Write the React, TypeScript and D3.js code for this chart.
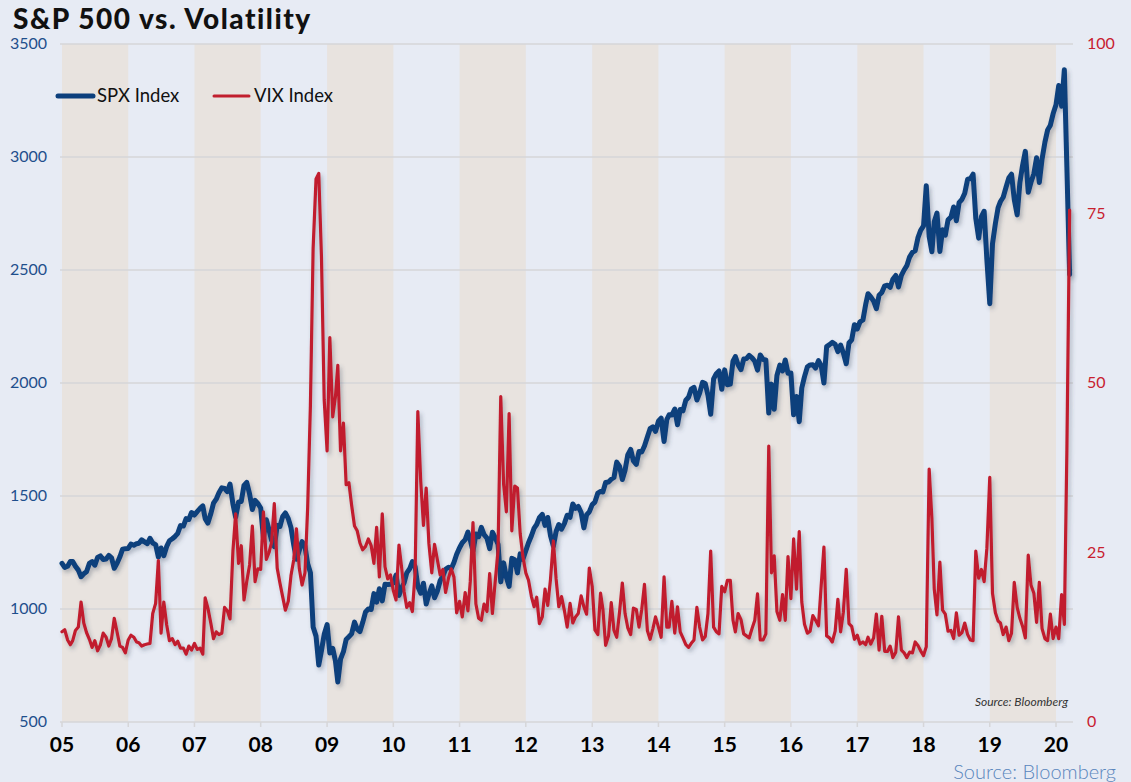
import React from "react";
import * as d3 from "d3";

const W = 1131;
const H = 782;

const titleText = "S&P 500 vs. Volatility";
const leftTicks = [500, 1000, 1500, 2000, 2500, 3000, 3500];
const rightTicks = [0, 25, 50, 75, 100];
const yearTicks = [2005, 2006, 2007, 2008, 2009, 2010, 2011, 2012, 2013, 2014, 2015, 2016, 2017, 2018, 2019, 2020];
const yearLabels = ["05", "06", "07", "08", "09", "10", "11", "12", "13", "14", "15", "16", "17", "18", "19", "20"];
const shadedYears = [2005, 2007, 2009, 2011, 2013, 2015, 2017, 2019];
const seriesNames = ["SPX Index", "VIX Index"];
const sourceText = "Source: Bloomberg";

// Values sampled on the 1st and 16th of each month, Jan 2005 - Mar 2020
const spxValues = [
  // 2005
  1202, 1184, 1189, 1210, 1210, 1189, 1172, 1143, 1156, 1165, 1202, 1210, 1194, 1228, 1235, 1219, 1221, 1237, 1226, 1180, 1203, 1231, 1265, 1267,
  // 2006
  1268, 1287, 1282, 1289, 1291, 1306, 1297, 1289, 1313, 1292, 1285, 1230, 1270, 1236, 1277, 1302, 1311, 1321, 1335, 1369, 1367, 1400, 1396, 1427,
  // 2007
  1416, 1431, 1445, 1456, 1400, 1380, 1421, 1468, 1486, 1514, 1536, 1533, 1519, 1553, 1465, 1406, 1474, 1476, 1547, 1560, 1508, 1440, 1481, 1467,
  // 2008
  1447, 1315, 1395, 1350, 1304, 1276, 1370, 1365, 1409, 1425, 1400, 1360, 1284, 1220, 1260, 1298, 1277, 1200, 1161, 920, 880, 752, 816, 888,
  // 2009
  931, 805, 826, 770, 677, 778, 811, 865, 877, 890, 942, 911, 900, 940, 987, 1000, 998, 1068, 1030, 1090, 1036, 1109, 1108, 1109,
  // 2010
  1115, 1150, 1060, 1094, 1115, 1160, 1178, 1210, 1187, 1100, 1070, 1114, 1022, 1065, 1102, 1050, 1080, 1125, 1146, 1176, 1185, 1178, 1206, 1242,
  // 2011
  1271, 1293, 1307, 1340, 1306, 1256, 1332, 1320, 1361, 1329, 1314, 1267, 1340, 1316, 1287, 1120, 1204, 1140, 1100, 1224, 1218, 1160, 1244, 1220,
  // 2012
  1258, 1293, 1324, 1358, 1374, 1404, 1419, 1370, 1405, 1325, 1278, 1343, 1374, 1353, 1379, 1415, 1406, 1465, 1445, 1454, 1427, 1359, 1416, 1430,
  // 2013
  1462, 1473, 1513, 1520, 1518, 1560, 1562, 1574, 1582, 1650, 1631, 1573, 1614, 1682, 1706, 1655, 1640, 1697, 1695, 1721, 1761, 1798, 1806, 1786,
  // 2014
  1831, 1845, 1741, 1838, 1859, 1858, 1885, 1815, 1883, 1877, 1924, 1937, 1973, 1981, 1925, 1955, 2003, 1998, 1946, 1862, 2018, 2041, 2053, 1972,
  // 2015
  2058, 1992, 1995, 2097, 2117, 2081, 2059, 2106, 2108, 2122, 2111, 2096, 2057, 2124, 2104, 2102, 1867, 1995, 1884, 2033, 2079, 2053, 2102, 2043,
  // 2016
  2044, 1859, 1940, 1829, 1978, 2028, 2072, 2080, 2081, 2066, 2099, 2077, 2000, 2161, 2170, 2180, 2171, 2139, 2168, 2133, 2085, 2177, 2191, 2258,
  // 2017
  2239, 2271, 2279, 2347, 2395, 2381, 2362, 2329, 2388, 2400, 2430, 2433, 2423, 2459, 2476, 2425, 2476, 2500, 2519, 2557, 2579, 2585, 2642, 2675,
  // 2018
  2695, 2873, 2648, 2581, 2713, 2752, 2582, 2678, 2654, 2722, 2734, 2779, 2718, 2798, 2813, 2840, 2902, 2904, 2924, 2728, 2641, 2736, 2760, 2546,
  // 2019
  2351, 2616, 2706, 2776, 2803, 2822, 2867, 2907, 2924, 2812, 2744, 2887, 2964, 3025, 2844, 2888, 2926, 2997, 2887, 2990, 3066, 3120, 3141, 3191,
  // 2020
  3231, 3316, 3225, 3386, 2954, 2480,
];

const vixValues = [
  // 2005
  13.3, 13.6, 12.1, 11.4, 12.0, 13.5, 14.0, 17.7, 14.6, 13.2, 12.2, 11.0, 12.0, 10.5, 11.4, 13.1, 12.5, 11.2, 12.3, 15.3, 13.2, 11.2, 11.0, 10.2,
  // 2006
  12.1, 12.8, 12.5, 11.8, 11.7, 11.2, 11.4, 11.5, 11.6, 16.0, 17.5, 23.8, 13.1, 17.7, 14.3, 12.0, 12.3, 11.4, 11.9, 10.9, 10.9, 10.0, 11.2, 10.6,
  // 2007
  11.6, 10.7, 10.9, 10.0, 18.3, 16.8, 14.6, 12.3, 13.3, 12.9, 13.1, 16.9, 16.4, 15.2, 25.2, 30.7, 23.4, 26.0, 18.0, 20.7, 23.2, 28.9, 20.7, 22.6,
  // 2008
  22.5, 31.0, 24.0, 25.0, 26.5, 32.2, 22.7, 20.5, 18.5, 16.5, 17.8, 21.6, 23.9, 28.5, 22.6, 20.2, 22.0, 31.7, 46.7, 69.9, 80.1, 80.9, 68.5, 47.5,
  // 2009
  40.0, 56.7, 45.0, 48.0, 52.6, 40.0, 44.1, 35.0, 35.3, 32.0, 28.9, 28.2, 26.4, 25.4, 25.9, 27.0, 26.0, 23.4, 28.7, 21.4, 30.7, 22.9, 21.1, 21.7,
  // 2010
  19.4, 18.0, 26.1, 22.7, 19.3, 16.9, 17.6, 16.3, 22.0, 45.8, 35.5, 29.0, 34.5, 26.3, 22.0, 26.2, 23.9, 21.7, 22.5, 19.1, 21.2, 22.6, 21.4, 16.1,
  // 2011
  17.8, 15.5, 19.1, 16.4, 20.7, 29.4, 17.4, 15.3, 15.0, 17.4, 16.3, 21.9, 16.0, 20.6, 25.3, 48.0, 35.0, 31.0, 45.5, 28.2, 34.8, 34.5, 27.8, 24.4,
  // 2012
  22.0, 20.9, 18.5, 17.0, 18.4, 14.5, 15.5, 19.6, 17.2, 21.0, 26.7, 21.1, 17.0, 18.5, 16.4, 14.0, 17.5, 14.6, 15.5, 16.0, 18.6, 17.0, 15.9, 22.7,
  // 2013
  20.0, 13.6, 12.9, 19.0, 16.6, 11.3, 12.7, 17.6, 13.5, 12.5, 16.3, 20.5, 16.0, 13.9, 12.9, 16.8, 16.6, 14.0, 16.6, 20.3, 13.5, 12.2, 13.7, 15.5,
  // 2014
  14.0, 12.5, 21.4, 14.0, 14.0, 17.8, 13.1, 17.0, 13.3, 12.4, 11.4, 11.0, 11.6, 12.1, 16.9, 14.0, 12.1, 12.6, 16.0, 25.2, 14.0, 13.3, 13.0, 20.0,
  // 2015
  19.2, 20.9, 20.9, 15.0, 13.3, 16.0, 15.1, 13.0, 12.7, 12.4, 13.8, 15.0, 18.9, 12.1, 12.1, 13.0, 40.7, 22.0, 24.5, 16.3, 15.0, 18.8, 15.0, 24.4,
  // 2016
  18.2, 27.0, 19.6, 28.1, 17.7, 14.4, 13.1, 13.4, 15.7, 15.0, 14.2, 20.1, 25.8, 12.7, 12.4, 11.8, 13.4, 18.1, 13.3, 16.2, 22.5, 14.5, 14.1, 12.2,
  // 2017
  12.8, 11.5, 11.8, 11.4, 12.5, 11.5, 12.4, 15.9, 10.6, 15.6, 10.4, 10.4, 11.2, 9.5, 10.3, 15.5, 10.6, 10.2, 9.5, 10.3, 10.2, 11.8, 11.3, 10.5,
  // 2018
  9.8, 11.1, 37.3, 30.0, 19.6, 15.8, 23.6, 16.5, 15.9, 13.4, 13.5, 12.3, 16.1, 12.8, 13.2, 14.6, 12.9, 12.1, 12.0, 25.2, 21.2, 22.5, 20.7, 25.6,
  // 2019
  36.1, 19.0, 16.1, 14.9, 14.6, 12.9, 14.0, 12.0, 13.1, 20.6, 16.9, 15.3, 14.1, 12.4, 24.6, 20.2, 19.0, 14.7, 20.6, 13.8, 12.3, 12.0, 15.9, 12.3,
  // 2020
  14.0, 12.3, 18.8, 14.4, 40.1, 75.5,
];

const slotDate = (i: number) =>
  new Date(2005 + Math.floor(i / 24), Math.floor((i % 24) / 2), i % 2 ? 16 : 1);

const COLORS = {
  bg: "#e7ebf4",
  band: "#e8e3df",
  grid: "#d6d6d9",
  spx: "#0c3f7c",
  vix: "#c11f2e",
  leftText: "#1f4f8c",
  rightText: "#c8202f",
  source: "#5a86bd",
};

export default function App() {
  const plotTop = 44;
  const plotBottom = 722;
  const plotLeft = 60;
  const plotRight = 1073;

  const x = d3
    .scaleTime()
    .domain([new Date(2005, 0, 1), new Date(2020, 0, 1)])
    .range([62, 1056]);
  const yL = d3.scaleLinear().domain([500, 3500]).range([plotBottom, plotTop]);
  const yR = d3.scaleLinear().domain([0, 100]).range([plotBottom, plotTop]);

  const spxLine = d3
    .line<number>()
    .x((_, i) => x(slotDate(i)))
    .y((d) => yL(d))
    .curve(d3.curveLinear);
  const vixLine = d3
    .line<number>()
    .x((_, i) => x(slotDate(i)))
    .y((d) => yR(d))
    .curve(d3.curveLinear);

  const tickFont = "Lato, 'Open Sans', sans-serif";

  return (
    <svg
      width={W}
      height={H}
      style={{ position: "absolute", left: 0, top: 0, display: "block" }}
    >
      <defs>
        <filter id="shadow" x="-5%" y="-5%" width="110%" height="110%">
          <feDropShadow dx="2" dy="3" stdDeviation="2" floodColor="#3a4660" floodOpacity="0.35" />
        </filter>
      </defs>
      <rect x={0} y={0} width={W} height={H} fill={COLORS.bg} />

      {shadedYears.map((yr) => (
        <rect
          key={yr}
          x={x(new Date(yr, 0, 1))}
          y={plotTop}
          width={x(new Date(yr + 1, 0, 1)) - x(new Date(yr, 0, 1))}
          height={plotBottom - plotTop}
          fill={COLORS.band}
        />
      ))}

      {leftTicks.map((t) => (
        <line
          key={"g" + t}
          x1={plotLeft}
          x2={plotRight}
          y1={yL(t)}
          y2={yL(t)}
          stroke={COLORS.grid}
          strokeWidth={1.5}
        />
      ))}

      {yearTicks.map((yr) => (
        <line
          key={"t" + yr}
          x1={x(new Date(yr, 0, 1))}
          x2={x(new Date(yr, 0, 1))}
          y1={plotBottom}
          y2={plotBottom + 5}
          stroke={COLORS.grid}
          strokeWidth={1.5}
        />
      ))}

      <path
        d={spxLine(spxValues) || ""}
        fill="none"
        stroke={COLORS.spx}
        strokeWidth={5}
        strokeLinejoin="round"
        strokeLinecap="round"
        filter="url(#shadow)"
      />
      <path
        d={vixLine(vixValues) || ""}
        fill="none"
        stroke={COLORS.vix}
        strokeWidth={3.2}
        strokeLinejoin="round"
        strokeLinecap="round"
        filter="url(#shadow)"
      />

      {leftTicks.map((t) => (
        <text
          key={"l" + t}
          x={47}
          y={yL(t) + 5}
          textAnchor="end"
          fontFamily={tickFont}
          fontSize={16}
          fill={COLORS.leftText}
        >
          {t}
        </text>
      ))}
      {rightTicks.map((t) => (
        <text
          key={"r" + t}
          x={1087}
          y={yR(t) + 5}
          textAnchor="start"
          fontFamily={tickFont}
          fontSize={16}
          fill={COLORS.rightText}
        >
          {t}
        </text>
      ))}
      {yearTicks.map((yr, i) => (
        <text
          key={"x" + yr}
          x={x(new Date(yr, 0, 1))}
          y={752}
          textAnchor="middle"
          fontFamily={tickFont}
          fontWeight={700}
          fontSize={21}
          fill="#000"
        >
          {yearLabels[i]}
        </text>
      ))}

      <text
        x={13}
        y={29}
        fontFamily={tickFont}
        fontWeight={900}
        fontSize={28}
        letterSpacing={1.5}
        fill="#111"
      >
        {titleText}
      </text>

      {/* legend */}
      <line x1={58} x2={93} y1={96} y2={96} stroke={COLORS.spx} strokeWidth={5} strokeLinecap="round" />
      <text x={97} y={102} fontFamily={tickFont} fontSize={18.5} fill="#111">
        {seriesNames[0]}
      </text>
      <line x1={214} x2={249} y1={96} y2={96} stroke={COLORS.vix} strokeWidth={3} strokeLinecap="round" />
      <text x={254} y={102} fontFamily={tickFont} fontSize={18.5} fill="#111">
        {seriesNames[1]}
      </text>

      <text
        x={1068}
        y={706}
        textAnchor="end"
        fontFamily={tickFont}
        fontStyle="italic"
        fontSize={12}
        fill="#333"
      >
        {sourceText}
      </text>
      <text
        x={1116}
        y={779}
        textAnchor="end"
        fontFamily={tickFont}
        fontWeight={300}
        fontSize={20}
        fill={COLORS.source}
      >
        {sourceText}
      </text>
    </svg>
  );
}
